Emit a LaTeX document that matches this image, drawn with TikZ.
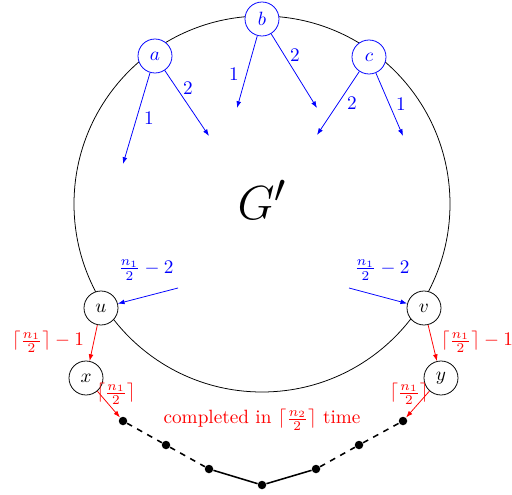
\documentclass[tikz,border=0pt]{standalone}
\usetikzlibrary{arrows.meta}
\begin{document}
\begin{tikzpicture}[x=0.52pt,y=-0.52pt,
  vtx/.style={circle,draw,fill=white,minimum size=34*0.52pt,inner sep=0pt},
  bvtx/.style={vtx,draw=blue,text=blue},
  dot/.style={circle,fill=black,minimum size=8.5*0.52pt,inner sep=0pt},
  barr/.style={blue,-{Latex[length=3.5pt,width=2.5pt]}},
  rarr/.style={red,-{Latex[length=3.5pt,width=2.5pt]}},
  blab/.style={blue,inner sep=0pt},
  rlab/.style={red,inner sep=0pt}]
\useasboundingbox (0,0) rectangle (512,495);
\draw (262,204) circle [radius=188*0.52pt];
\node (G) at (262,200) {\Huge $G'$};
% top vertices
\node[bvtx] (b) at (262,19) {$b$};
\node[bvtx] (a) at (155,56) {$a$};
\node[bvtx] (c) at (369,57) {$c$};
\coordinate (a1) at (123,164);
\coordinate (a2) at (209,136);
\coordinate (b1) at (237,108);
\coordinate (b2) at (317,108);
\coordinate (c2) at (317,135);
\coordinate (c1) at (403,136);
\draw[barr] (a) -- (a1);
\draw[barr] (a) -- (a2);
\draw[barr] (b) -- (b1);
\draw[barr] (b) -- (b2);
\draw[barr] (c) -- (c2);
\draw[barr] (c) -- (c1);
\node[blab] (la1) at (149,118) {1};
\node[blab] (la2) at (188,88) {2};
\node[blab] (lb1) at (234,74) {1};
\node[blab] (lb2) at (295,55) {2};
\node[blab] (lc2) at (352,103) {2};
\node[blab] (lc1) at (401,104) {1};
% u, v
\node[vtx] (u) at (101,308) {$u$};
\node[vtx] (v) at (424,308) {$v$};
\coordinate (us) at (178,288);
\coordinate (vs) at (349,288);
\draw[barr] (us) -- (u);
\draw[barr] (vs) -- (v);
\node[blab] (lu) at (146,270) {$\frac{n_1}{2}-2$};
\node[blab] (lv) at (382,270) {$\frac{n_1}{2}-2$};
% x, y
\node[vtx] (x) at (86,378) {$x$};
\node[vtx] (y) at (441,378) {$y$};
\draw[rarr] (u) -- (x);
\draw[rarr] (v) -- (y);
\node[rlab] (lx) at (48,342) {$\lceil\frac{n_1}{2}\rceil-1$};
\node[rlab] (ly) at (477,342) {$\lceil\frac{n_1}{2}\rceil-1$};
% path
\node[dot] (d1) at (123,421) {};
\node[dot] (d2) at (166,445) {};
\node[dot] (d3) at (209,469) {};
\node[dot] (d4) at (262,485) {};
\node[dot] (d5) at (316,469) {};
\node[dot] (d6) at (359,445) {};
\node[dot] (d7) at (403,421) {};
\draw[dashed,thick] (d1) -- (d2) -- (d3);
\draw[thick] (d3) -- (d4) -- (d5);
\draw[dashed,thick] (d5) -- (d6) -- (d7);
\draw[rarr] (x) -- (d1);
\draw[rarr] (y) -- (d7);
\node[rlab] (lxd) at (116,394) {$\lceil\frac{n_1}{2}\rceil$};
\node[rlab] (lyd) at (409,394) {$\lceil\frac{n_1}{2}\rceil$};
\node[rlab] (comp) at (262,420) {completed in $\lceil\frac{n_2}{2}\rceil$ time};
\end{tikzpicture}
\end{document}
